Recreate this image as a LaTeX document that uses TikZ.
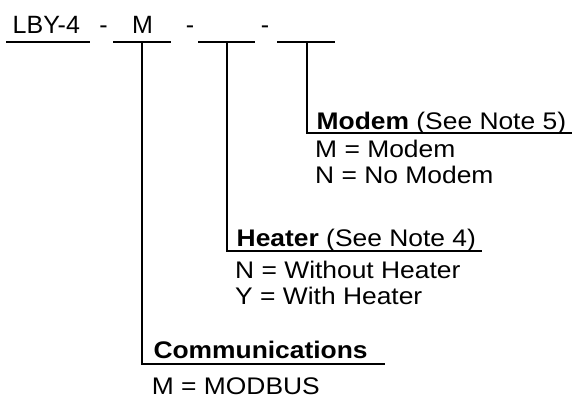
\documentclass[tikz,border=0pt]{standalone}
\usepackage{fontspec}
\setmainfont{Liberation Sans}
\newfontfamily\bodyf{Liberation Sans}[FakeStretch=1.1]
\begin{document}
\begin{tikzpicture}[x=1pt,y=-1pt,
  rule/.style={line width=2pt},
  toptext/.style={inner sep=0pt,anchor=base,font=\fontsize{25}{30}\selectfont},
  lbl/.style={inner sep=0pt,anchor=base west,font=\bodyf\fontsize{24}{28}\selectfont}]
\useasboundingbox (0,0) rectangle (574,397);
% top code row
\node[toptext] (lby) at (46.3,33.3) {LBY-4};
\node[toptext] (d1) at (103.5,33.3) {-};
\node[toptext] (m) at (142.5,33.3) {M};
\node[toptext] (d2) at (190,33.3) {-};
\node[toptext] (d3) at (265,33.3) {-};
% underline coordinates
\coordinate (u1a) at (6,42); \coordinate (u1b) at (90,42);
\coordinate (u2a) at (113,42); \coordinate (u2b) at (171,42);
\coordinate (u3a) at (198,42); \coordinate (u3b) at (255,42);
\coordinate (u4a) at (277,42); \coordinate (u4b) at (335,42);
\coordinate (t2) at (142,42); \coordinate (c2) at (385,364);
\coordinate (t3) at (227,42); \coordinate (c3) at (482,251);
\coordinate (t4) at (307,42); \coordinate (c4) at (572,132.5);
\draw[rule] (u1a) -- (u1b);
\draw[rule] (u2a) -- (u2b);
\draw[rule] (u3a) -- (u3b);
\draw[rule] (u4a) -- (u4b);
\draw[rule,line join=miter] (t2) |- (c2);
\draw[rule,line join=miter] (t3) |- (c3);
\draw[rule,line join=miter] (t4) |- (c4);
% Modem
\node[lbl] (modt) at (316.5,129.5) {\textbf{Modem} (See Note 5)};
\node[lbl] (mod1) at (315,157.3) {M = Modem};
\node[lbl] (mod2) at (315,183.3) {N = No Modem};
% Heater
\node[lbl] (heat) at (236.5,246.7) {\textbf{Heater} (See Note 4)};
\node[lbl] (heat1) at (235,278.3) {N = Without Heater};
\node[lbl] (heat2) at (235,304.3) {Y = With Heater};
% Communications
\node[lbl] (comm) at (153.3,358.3) {\textbf{Communications}};
\node[lbl] (comm1) at (151.7,394.3) {M = MODBUS};
\end{tikzpicture}
\end{document}
